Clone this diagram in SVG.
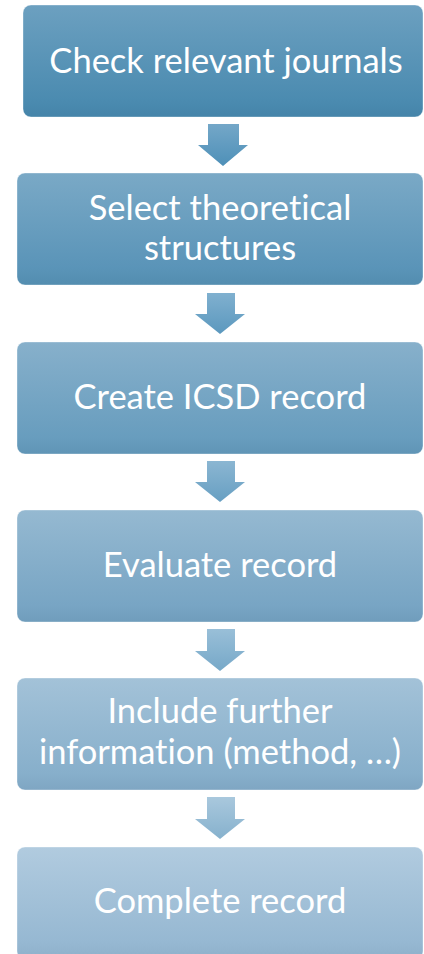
<svg xmlns="http://www.w3.org/2000/svg" width="424" height="954" viewBox="0 0 424 954">
<style>
.lbl{font-family:Lato,"Open Sans","DejaVu Sans",sans-serif;font-size:34.5px;fill:#ffffff;text-anchor:middle;font-variant-ligatures:none;font-feature-settings:"liga" 0}
.box{stroke:#ffffff;stroke-opacity:0.35;stroke-width:1}
</style>
<defs>
<linearGradient id="g1" x1="0" y1="0" x2="0" y2="1"><stop offset="0" stop-color="#6ca0c0"/><stop offset="0.85" stop-color="#4b8bb0"/><stop offset="1" stop-color="#4584a9"/></linearGradient>
<linearGradient id="g2" x1="0" y1="0" x2="0" y2="1"><stop offset="0" stop-color="#7aa9c6"/><stop offset="0.85" stop-color="#5a94b8"/><stop offset="1" stop-color="#538daf"/></linearGradient>
<linearGradient id="g3" x1="0" y1="0" x2="0" y2="1"><stop offset="0" stop-color="#87b0cb"/><stop offset="0.85" stop-color="#689dbe"/><stop offset="1" stop-color="#6095b6"/></linearGradient>
<linearGradient id="g4" x1="0" y1="0" x2="0" y2="1"><stop offset="0" stop-color="#95b9d1"/><stop offset="0.85" stop-color="#78a5c4"/><stop offset="1" stop-color="#709dbc"/></linearGradient>
<linearGradient id="g5" x1="0" y1="0" x2="0" y2="1"><stop offset="0" stop-color="#a3c2d8"/><stop offset="0.85" stop-color="#87afcb"/><stop offset="1" stop-color="#7fa6c3"/></linearGradient>
<linearGradient id="g6" x1="0" y1="0" x2="0" y2="1"><stop offset="0" stop-color="#b1cbdf"/><stop offset="0.85" stop-color="#96b8d2"/><stop offset="1" stop-color="#8eb0ca"/></linearGradient>
<linearGradient id="a1" x1="0" y1="0" x2="0" y2="1"><stop offset="0" stop-color="#74a7c8"/><stop offset="1" stop-color="#4e90b8"/></linearGradient>
<linearGradient id="a2" x1="0" y1="0" x2="0" y2="1"><stop offset="0" stop-color="#80b0cf"/><stop offset="1" stop-color="#5b98be"/></linearGradient>
<linearGradient id="a3" x1="0" y1="0" x2="0" y2="1"><stop offset="0" stop-color="#8bb6d2"/><stop offset="1" stop-color="#679fc2"/></linearGradient>
<linearGradient id="a4" x1="0" y1="0" x2="0" y2="1"><stop offset="0" stop-color="#99bfd8"/><stop offset="1" stop-color="#76a8c8"/></linearGradient>
<linearGradient id="a5" x1="0" y1="0" x2="0" y2="1"><stop offset="0" stop-color="#a9c8dd"/><stop offset="1" stop-color="#86b1cd"/></linearGradient>
</defs>
<g id="connectors">
<path d="M208 124 H239 V145 H248 L223 166 L198 145 H208 Z" fill="url(#a1)"/>
<path d="M207 293 H235 V314 H245 L220 334 L195 314 H207 Z" fill="url(#a2)"/>
<path d="M207 461 H235 V482 H245 L220 502 L195 482 H207 Z" fill="url(#a3)"/>
<path d="M207 629 H235 V651 H245 L220 671 L195 651 H207 Z" fill="url(#a4)"/>
<path d="M207 797 H235 V819 H245 L220 839 L195 819 H207 Z" fill="url(#a5)"/>
</g>
<g id="node1"><rect class="box" x="23" y="5" width="400" height="112" rx="8" fill="url(#g1)"/><text class="lbl" x="226" y="73">Check relevant journals</text></g>
<g id="node2"><rect class="box" x="17" y="173" width="406" height="112" rx="8" fill="url(#g2)"/><text class="lbl" x="220" y="220">Select theoretical</text><text class="lbl" x="220" y="260">structures</text></g>
<g id="node3"><rect class="box" x="17" y="342" width="406" height="112" rx="8" fill="url(#g3)"/><text class="lbl" x="220" y="409">Create ICSD record</text></g>
<g id="node4"><rect class="box" x="17" y="510" width="406" height="112" rx="8" fill="url(#g4)"/><text class="lbl" x="220" y="577">Evaluate record</text></g>
<g id="node5"><rect class="box" x="17" y="678" width="406" height="112" rx="8" fill="url(#g5)"/><text class="lbl" x="220" y="723">Include further</text><text class="lbl" x="220" y="764">information (method, …)</text></g>
<g id="node6"><rect class="box" x="17" y="847" width="406" height="112" rx="8" fill="url(#g6)"/><text class="lbl" x="220" y="913">Complete record</text></g>
</svg>
